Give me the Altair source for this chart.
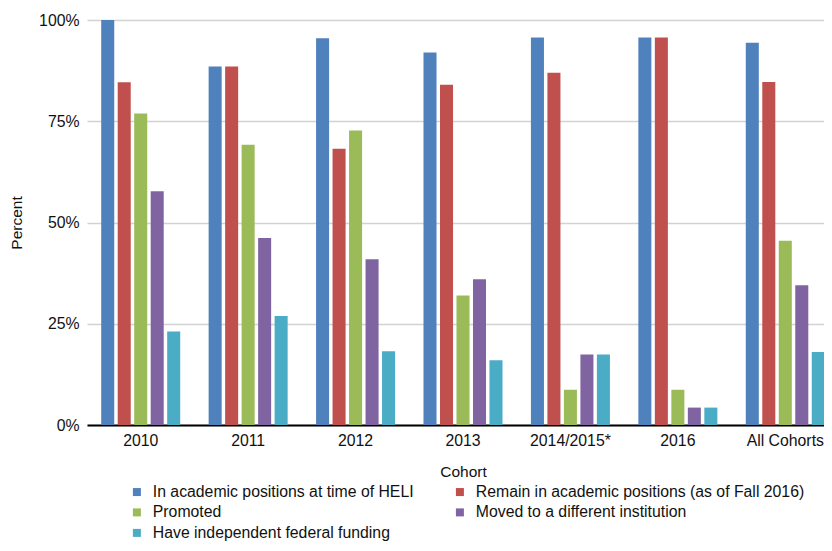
import altair as alt
import pandas as pd

cohorts = ["2010", "2011", "2012", "2013", "2014/2015*", "2016", "All Cohorts"]
series = [
    "In academic positions at time of HELI",
    "Remain in academic positions (as of Fall 2016)",
    "Promoted",
    "Moved to a different institution",
    "Have independent federal funding",
]
in_academic = [100.0, 88.5, 95.5, 92.0, 95.7, 95.7, 94.4]
remain_academic = [84.6, 88.5, 68.2, 84.0, 87.0, 95.7, 84.7]
promoted = [76.9, 69.2, 72.7, 32.0, 8.7, 8.7, 45.5]
moved = [57.7, 46.2, 40.9, 36.0, 17.4, 4.3, 34.5]
funding = [23.1, 26.9, 18.2, 16.0, 17.4, 4.3, 18.0]
colors = ["#4F81BD", "#C0504D", "#9BBB59", "#8064A2", "#4BACC6"]

rows = []
for s, vals in zip(series, [in_academic, remain_academic, promoted, moved, funding]):
    for c, v in zip(cohorts, vals):
        rows.append({"Cohort": c, "Series": s, "Value": v / 100.0})
df = pd.DataFrame(rows)

FONT = "Liberation Sans"

chart = (
    alt.Chart(df)
    .mark_bar()
    .encode(
        x=alt.X(
            "Cohort:N",
            sort=cohorts,
            scale=alt.Scale(range=[0, 752], paddingInner=0.2, paddingOuter=0.1),
            axis=alt.Axis(
                title="Cohort",
                labelAngle=0,
                ticks=False,
                domainColor="#000000",
                domainWidth=2,
                labelPadding=8,
                titlePadding=17,
                grid=False,
            ),
        ),
        xOffset=alt.XOffset(
            "Series:N",
            sort=series,
            scale=alt.Scale(paddingInner=0.21, paddingOuter=0.21),
        ),
        y=alt.Y(
            "Value:Q",
            scale=alt.Scale(domain=[0, 1]),
            axis=alt.Axis(
                title="Percent",
                format=".0%",
                values=[0, 0.25, 0.5, 0.75, 1.0],
                domain=False,
                ticks=False,
                labelPadding=8,
                titlePadding=14,
                gridColor="#d2d2d2",
                gridWidth=1.5,
            ),
        ),
        color=alt.Color(
            "Series:N",
            sort=series,
            scale=alt.Scale(domain=series, range=colors),
            legend=alt.Legend(
                title=None,
                orient="none",
                direction="horizontal",
                legendX=42,
                legendY=464,
                columns=2,
                columnPadding=38,
                rowPadding=3.5,
                symbolType="square",
                symbolSize=64,
                symbolStrokeWidth=0,
                labelOffset=8,
                labelLimit=500,
                labelFontSize=15.8,
                labelFont=FONT,
                labelColor="#111111",
            ),
        ),
    )
    .properties(
        width=737,
        height=405,
        autosize=alt.AutoSizeParams(type="none"),
        padding={"left": 79, "top": 12, "right": 0, "bottom": 118},
    )
    .configure_axis(
        labelFont=FONT,
        titleFont=FONT,
        labelFontSize=15.8,
        titleFontSize=15.5,
        titleFontWeight="normal",
        labelColor="#111111",
        titleColor="#111111",
    )
    .configure_view(stroke=None)
)

chart.save("out.html", embed_options={"renderer": "svg", "actions": False})
